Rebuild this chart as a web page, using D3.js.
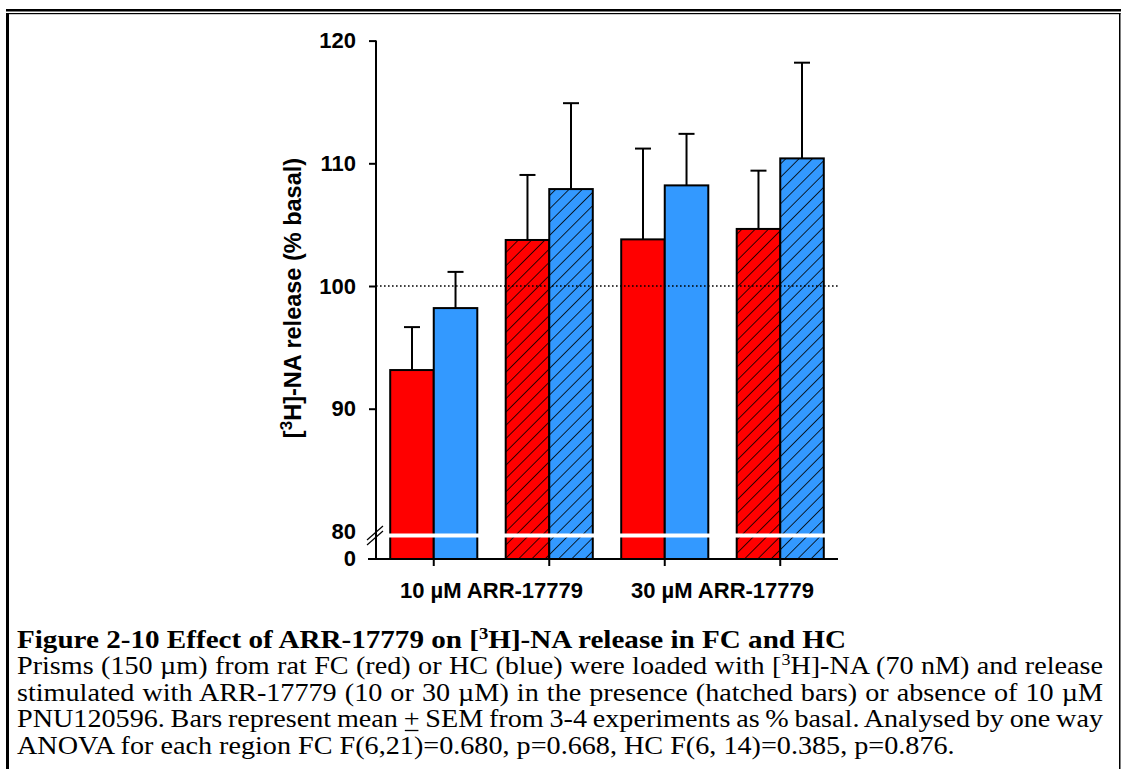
<!DOCTYPE html>
<html>
<head>
<meta charset="utf-8">
<script src="https://cdn.jsdelivr.net/npm/d3@7"></script>
<style>
    body { margin: 0; background: #fff; }
    svg text { fill: #000; }
    .chart text { font-family: "Liberation Sans", Arial, sans-serif; font-weight: bold; }
    .caption text { font-family: "Liberation Serif", "Times New Roman", serif; font-size: 25px; }
</style>
</head>
<body>
<div id="chart"></div>
<script>
// bars: FC = red, HC = blue; hatched = with 10 uM PNU120596
var conditions = ["10", "10+PNU", "30", "30+PNU"];
var hatched = [false, true, false, true];
var regions = ["FC", "HC"];
var fcMean = [93.15, 103.75, 103.8, 104.65];
var fcSem = [3.5, 5.3, 7.4, 4.75];
var hcMean = [98.2, 107.9, 108.2, 110.4];
var hcSem = [2.95, 7.0, 4.2, 7.8];
var groupLabels = ["10 \u00b5M ARR-17779", "30 \u00b5M ARR-17779"];
var yTicks = [90, 100, 110, 120];
var breakTicks = [80, 0];

var colors = {FC: "#ff0000", HC: "#3399ff"};

var W = 1121, H = 769;

var x = d3.scaleBand()
        .domain(conditions)
        .range([376, 838]);

var xRegion = d3.scaleBand()
        .domain(regions)
        .range([-x.step() * 0.377, x.step() * 0.377]);

// broken axis: 80..120 on top, 0..80 squeezed below the break
var y = d3.scaleLinear()
        .domain([80, 120])
        .range([531.4, 40.6]);

var yLow = d3.scaleLinear()
        .domain([0, 80])
        .range([559, 539]);

var svg = d3.select("#chart").append("svg")
        .attr("width", W)
        .attr("height", H);

var defs = svg.append("defs");
regions.forEach(function(r) {
    var p = defs.append("pattern")
            .attr("id", "hatch-" + r)
            .attr("patternUnits", "userSpaceOnUse")
            .attr("width", 9.4)
            .attr("height", 9.4)
            .attr("patternTransform", "rotate(45)");
    p.append("rect")
            .attr("width", 9.4)
            .attr("height", 9.4)
            .attr("fill", colors[r]);
    p.append("line")
            .attr("x1", 0).attr("y1", 0)
            .attr("x2", 0).attr("y2", 9.4)
            .attr("stroke", "#000")
            .attr("stroke-width", 1.6);
});

// page frame
svg.append("rect").attr("x", 6).attr("y", 9).attr("width", W - 6).attr("height", 2.5).attr("fill", "#000");
svg.append("rect").attr("x", 6).attr("y", 13).attr("width", W - 6.5).attr("height", 1.2).attr("fill", "#000");
svg.append("rect").attr("x", 6).attr("y", 13).attr("width", 3).attr("height", H - 13).attr("fill", "#000");
svg.append("rect").attr("x", 1119).attr("y", 13).attr("width", 1.5).attr("height", H - 13).attr("fill", "#000");

var g = svg.append("g").attr("class", "chart");

var data = [];
conditions.forEach(function(c, i) {
    data.push({cond: c, region: "FC", mean: fcMean[i], sem: fcSem[i], hatch: hatched[i]});
    data.push({cond: c, region: "HC", mean: hcMean[i], sem: hcSem[i], hatch: hatched[i]});
});

function barX(d) { return x(d.cond) + x.bandwidth() / 2 + xRegion(d.region); }

// error bars (upper only)
var err = g.selectAll("g.err").data(data).enter().append("g").attr("class", "err")
        .attr("stroke", "#000").attr("stroke-width", 2);
err.append("line")
        .attr("x1", function(d) { return barX(d) + xRegion.bandwidth() / 2; })
        .attr("x2", function(d) { return barX(d) + xRegion.bandwidth() / 2; })
        .attr("y1", function(d) { return y(d.mean); })
        .attr("y2", function(d) { return y(d.mean + d.sem); });
err.append("line")
        .attr("x1", function(d) { return barX(d) + xRegion.bandwidth() / 2 - 8; })
        .attr("x2", function(d) { return barX(d) + xRegion.bandwidth() / 2 + 8; })
        .attr("y1", function(d) { return y(d.mean + d.sem); })
        .attr("y2", function(d) { return y(d.mean + d.sem); });

g.selectAll("rect.bar").data(data).enter().append("rect")
        .attr("class", "bar")
        .attr("x", barX)
        .attr("y", function(d) { return y(d.mean); })
        .attr("width", xRegion.bandwidth())
        .attr("height", function(d) { return yLow(0) - y(d.mean); })
        .attr("fill", function(d) { return d.hatch ? "url(#hatch-" + d.region + ")" : colors[d.region]; })
        .attr("stroke", "#000")
        .attr("stroke-width", 2);

// 100% basal reference
g.append("line")
        .attr("x1", 376).attr("x2", 839)
        .attr("y1", y(100)).attr("y2", y(100))
        .attr("stroke", "#000")
        .attr("stroke-width", 1.4)
        .attr("stroke-dasharray", "1.6,2.4");

// axis break
g.append("rect")
        .attr("x", 377).attr("y", 533.5)
        .attr("width", 462).attr("height", 4)
        .attr("fill", "#fff");

var yAxis = d3.axisLeft(y).tickValues(yTicks).tickSize(7).tickFormat(d3.format("d"));
var ax = g.append("g")
        .attr("transform", "translate(376,0)")
        .call(yAxis);
ax.select(".domain").remove();
ax.append("line").attr("x1", 0).attr("x2", 0).attr("y1", y(120)).attr("y2", yLow(0))
        .attr("stroke", "#000").attr("stroke-width", 2);
ax.selectAll(".tick line").attr("stroke-width", 2);
ax.selectAll(".tick text")
        .attr("x", -20)
        .attr("font-size", "22px")
        .attr("font-family", null);

g.selectAll("text.brk").data(breakTicks).enter().append("text")
        .attr("class", "brk")
        .attr("x", 356)
        .attr("y", function(d) { return d === 0 ? yLow(0) : y(d); })
        .attr("dy", "0.34em")
        .attr("text-anchor", "end")
        .attr("font-size", "22px")
        .text(function(d) { return d; });

[0, 5].forEach(function(o) {
    g.append("line")
            .attr("x1", 367).attr("y1", 540 + o)
            .attr("x2", 383).attr("y2", 526 + o)
            .attr("stroke", "#000").attr("stroke-width", 1.2);
});

var xAxis = d3.axisBottom(x).tickSize(7).tickFormat("");
var bx = g.append("g")
        .attr("transform", "translate(0," + yLow(0) + ")")
        .call(xAxis);
bx.select(".domain").remove();
bx.append("line").attr("x1", 368).attr("x2", 838).attr("stroke", "#000").attr("stroke-width", 2);
bx.selectAll(".tick line").attr("stroke-width", 2);

g.selectAll("text.grp").data(groupLabels).enter().append("text")
        .attr("class", "grp")
        .attr("x", function(d, i) {
            return (x(conditions[2 * i]) + x(conditions[2 * i + 1])) / 2 + x.bandwidth() / 2;
        })
        .attr("y", 598)
        .attr("text-anchor", "middle")
        .attr("font-size", "22px")
        .text(function(d) { return d; });

var yt = g.append("text")
        .attr("transform", "translate(301,298) rotate(-90)")
        .attr("text-anchor", "middle")
        .attr("font-size", "23.5px");
yt.append("tspan").text("[");
yt.append("tspan").attr("font-size", "17px").attr("dy", -9).text("3");
yt.append("tspan").attr("dy", 9).text("H]-NA release (% basal)");

// caption, slightly stretched sideways like the scanned page
var left = 17, right = 1103;
var cap = svg.append("g").attr("class", "caption");

var lines = [
    [{t: "Prisms (150 \u00b5m) from rat FC (red) or HC (blue) were loaded with ["}, {t: "3", sup: true}, {t: "H]-NA (70 nM) and release"}],
    [{t: "stimulated with ARR-17779 (10 or 30 \u00b5M) in the presence (hatched bars) or absence of 10 \u00b5M"}],
    [{t: "PNU120596. Bars represent mean "}, {t: "+", u: true}, {t: " SEM from 3-4 experiments as % basal. Analysed by one way"}],
    [{t: "ANOVA for each region FC F(6,21)=0.680, p=0.668, HC F(6, 14)=0.385, p=0.876."}]
];

function addParts(txt, parts) {
    parts.forEach(function(p, k) {
        var s = txt.append("tspan").text(p.t);
        if (p.sup) s.attr("font-size", "16px").attr("dy", -9);
        else if (k > 0 && parts[k - 1].sup) s.attr("dy", 9);
        if (p.u) s.classed("ul", true);
    });
}

var texts = lines.map(function(parts, i) {
    var txt = cap.append("text").attr("x", 0).attr("y", 674.5 + i * 26.5);
    addParts(txt, parts);
    return txt;
});

// stretch factor from the last (unjustified) line, which ends near x=955
var sx = (955 - left) / texts[3].node().getComputedTextLength();
cap.attr("transform", "translate(" + left + ",0) scale(" + sx + ",1)");

texts.forEach(function(txt, i) {
    if (i === lines.length - 1) return;
    var full = lines[i].map(function(p) { return p.t; }).join("");
    var spaces = full.split(" ").length - 1;
    var natural = txt.node().getComputedTextLength();
    txt.style("word-spacing", ((right - left) / sx - natural) / spaces + "px");
});

// underline under the "+" (mean + SEM)
cap.selectAll("tspan.ul").each(function() {
    var a = this.getStartPositionOfChar(0), b = this.getEndPositionOfChar(0);
    cap.append("line")
            .attr("x1", a.x + 1).attr("x2", b.x - 1)
            .attr("y1", a.y + 3).attr("y2", a.y + 3)
            .attr("stroke", "#000").attr("stroke-width", 1.3);
});

var t = cap.append("text").attr("x", 0).attr("y", 648).attr("font-weight", "bold");
addParts(t, [{t: "Figure 2-10 Effect of ARR-17779 on ["}, {t: "3", sup: true}, {t: "H]-NA release in FC and HC"}]);
t.attr("textLength", (846 - left) / sx).attr("lengthAdjust", "spacingAndGlyphs");
</script>
</body>
</html>
